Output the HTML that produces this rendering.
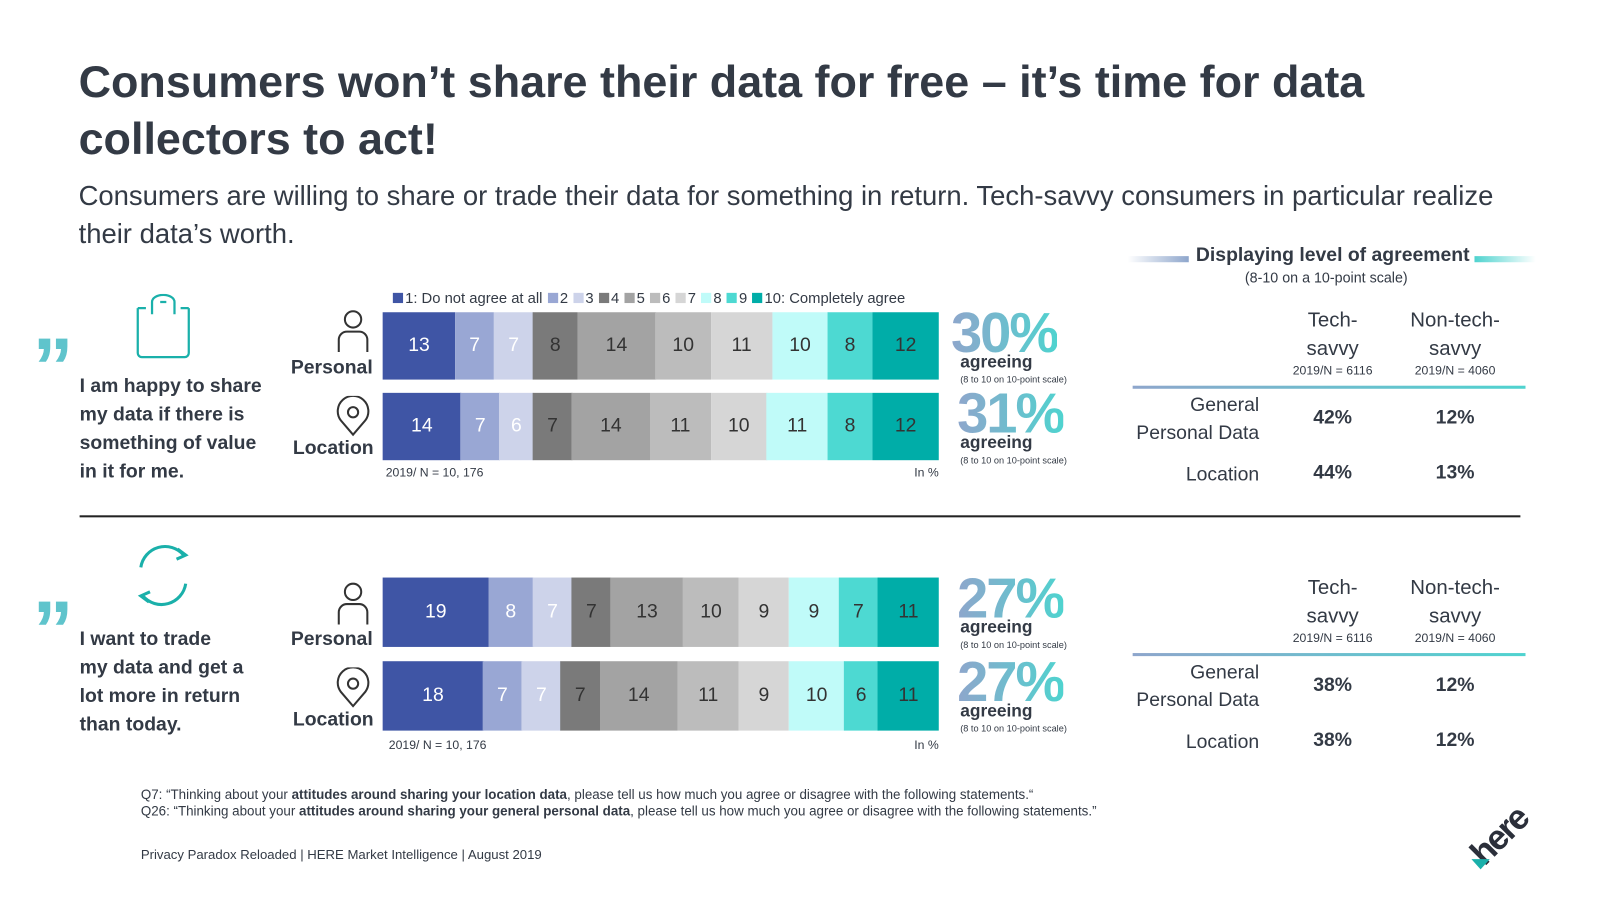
<!DOCTYPE html>
<html><head><meta charset="utf-8">
<style>
body{margin:0;width:1600px;height:900px;background:#fff;position:relative;overflow:hidden;font-family:"Liberation Sans",sans-serif;color:#333a45}
#wrap{position:absolute;left:0;top:0;width:1568px;height:882px;transform:scale(1.0204);transform-origin:0 0}
.a{position:absolute;white-space:nowrap}
.seg{position:absolute;top:0;height:100%;display:flex;align-items:center;justify-content:center;font-size:19px;color:#333}
.big{font-weight:bold;font-size:55px;letter-spacing:-2px;background:linear-gradient(90deg,#8ea6cc,#4fd3cf);-webkit-background-clip:text;background-clip:text;color:transparent}
.agr{font-weight:bold;font-size:17px}
.sml{font-size:9px}
.hd{font-size:20px;text-align:center;line-height:28px}
.hn{font-size:12px;text-align:center}
.rv{font-size:19px;font-weight:bold;text-align:center}
.rl{font-size:19px;text-align:right;line-height:27px}
.gline{position:absolute;height:3px;background:linear-gradient(90deg,#8ea6cc,#4fd3cf)}
.q{font-size:19px;font-weight:bold;line-height:28px}
.lbl{font-size:19px;font-weight:bold}
</style></head><body>
<div id="wrap">
<div class="a" style="left:77px;top:53px;font-size:44px;font-weight:bold;line-height:56px">Consumers won’t share their data for free – it’s time for data<br>collectors to act!</div>
<div class="a" style="left:77px;top:174px;font-size:26.9px;line-height:37px">Consumers are willing to share or trade their data for something in return. Tech-savvy consumers in particular realize<br>their data’s worth.</div>

<div class="a" id="legend" style="left:385px;top:285px;font-size:14.5px;display:flex;gap:5px;align-items:center"></div>

<div id="chart"></div>

<svg class="a" style="left:132px;top:288px" width="56" height="64"><path d="M3 14h8M45 14h8M3 14v44a4 4 0 0 0 4 4h42a4 4 0 0 0 4-4V14M17 20V8a11 7 0 0 1 22 0v12M25 8h6" stroke="#1ab0aa" stroke-width="2.2" fill="none"/></svg>
<div class="a" style="left:32px;top:320px;font-size:80px;font-weight:bold;color:#5fc4cc;line-height:80px">”</div>
<div class="a q" style="left:78px;top:365px">I am happy to share<br>my data if there is<br>something of value<br>in it for me.</div>
<svg class="a" style="left:330px;top:303px" width="32" height="42"><circle cx="16" cy="10" r="8" stroke="#333" stroke-width="2" fill="none"/><path d="M2 42V30a8 8 0 0 1 8-8h12a8 8 0 0 1 8 8v12" stroke="#333" stroke-width="2" fill="none"/></svg>
<div class="a lbl" style="left:285px;top:350px">Personal</div>
<svg class="a" style="left:328px;top:388px" width="36" height="40"><path d="M18 38L6 24a15 15 0 1 1 24 0z" stroke="#333" stroke-width="2" fill="none"/><circle cx="18" cy="16" r="5" stroke="#333" stroke-width="2" fill="none"/></svg>
<div class="a lbl" style="left:287px;top:429px">Location</div>

<svg class="a" style="left:124px;top:528px" width="72" height="72"><path d="M14 28a24 24 0 0 1 42-12M58 44a24 24 0 0 1-42 12" stroke="#1ab0aa" stroke-width="3" fill="none"/><path d="M50 10l8 6-9 4M22 62l-8-6 9-4" stroke="#1ab0aa" stroke-width="3" fill="none"/></svg>
<div class="a" style="left:32px;top:578px;font-size:80px;font-weight:bold;color:#5fc4cc;line-height:80px">”</div>
<div class="a q" style="left:78px;top:613px">I want to trade<br>my data and get a<br>lot more in return<br>than today.</div>
<svg class="a" style="left:330px;top:570px" width="32" height="42"><circle cx="16" cy="10" r="8" stroke="#333" stroke-width="2" fill="none"/><path d="M2 42V30a8 8 0 0 1 8-8h12a8 8 0 0 1 8 8v12" stroke="#333" stroke-width="2" fill="none"/></svg>
<div class="a lbl" style="left:285px;top:616px">Personal</div>
<svg class="a" style="left:328px;top:654px" width="36" height="40"><path d="M18 38L6 24a15 15 0 1 1 24 0z" stroke="#333" stroke-width="2" fill="none"/><circle cx="18" cy="16" r="5" stroke="#333" stroke-width="2" fill="none"/></svg>
<div class="a lbl" style="left:287px;top:695px">Location</div>

<div class="a" style="left:78px;top:505px;width:1412px;height:2px;background:#222"></div>

<div class="gline" style="left:1105px;top:251px;width:60px;height:6px;background:linear-gradient(90deg,#fff,#8ea6cc)"></div>
<div class="gline" style="left:1445px;top:251px;width:60px;height:6px;background:linear-gradient(90deg,#4fd3cf,#fff)"></div>
<div class="a" style="left:1172px;top:240px;font-size:19px;font-weight:bold">Displaying level of agreement</div>
<div class="a" style="left:1220px;top:264px;font-size:14px">(8-10 on a 10-point scale)</div>

<div id="tables"></div>

<div class="a" style="left:138px;top:771px;font-size:13.1px;line-height:16px">Q7: “Thinking about your <b>attitudes around sharing your location data</b>, please tell us how much you agree or disagree with the following statements.“<br>Q26: “Thinking about your <b>attitudes around sharing your general personal data</b>, please tell us how much you agree or disagree with the following statements.”</div>
<div class="a" style="left:138px;top:830px;font-size:12.9px">Privacy Paradox Reloaded | HERE Market Intelligence | August 2019</div>
<div class="a" style="left:1438px;top:800px;font-size:34px;font-weight:bold;color:#2b2f3a;transform:rotate(-45deg);letter-spacing:-2px">here</div>
<div class="a" style="left:1442px;top:842px;width:0;height:0;border-left:9px solid transparent;border-right:9px solid transparent;border-top:10px solid #1ab0aa"></div>
</div>

<script>
const categories=["1: Do not agree at all","2","3","4","5","6","7","8","9","10: Completely agree"];
const rowNames=["personal-share","location-share","personal-trade","location-trade"];
const personalShare=[13,7,7,8,14,10,11,10,8,12];
const locationShare=[14,7,6,7,14,11,10,11,8,12];
const personalTrade=[19,8,7,7,13,10,9,9,7,11];
const locationTrade=[18,7,7,7,14,11,9,10,6,11];
const agreeing=[30,31,27,27];
const techSavvy=[[42,44],[38,38]];
const nonTechSavvy=[[12,13],[12,12]];

const colors=["#3f55a5","#99a7d4","#cdd3ea","#7a7a7a","#a3a3a3","#bcbcbc","#d6d6d6","#c0fbf9","#4dd9d2","#00ada8"];
const txtCol=["#fff","#fff","#fff","#333","#333","#333","#333","#333","#333","#333"];
const series=[personalShare,locationShare,personalTrade,locationTrade];
const rowTop=[306,385,566,648],rowH=[66,66,68,68];
const X0=375,W=545;
function xScale(v,total){return v/total*W;}

const lg=document.getElementById('legend');
categories.forEach((c,i)=>{
  const s=document.createElement('span');
  
  
  s.innerHTML='<span style="display:inline-block;width:10px;height:10px;background:'+colors[i]+';margin-right:2px"></span>'+c;
  lg.appendChild(s);
});

const chart=document.getElementById('chart');
series.forEach((vals,r)=>{
  const total=vals.reduce((a,b)=>a+b,0);
  const row=document.createElement('div');
  row.className='a';
  
  
  row.style.cssText='left:'+X0+'px;top:'+rowTop[r]+'px;width:'+W+'px;height:'+rowH[r]+'px';
  let acc=0;
  vals.forEach((v,i)=>{
    const s=document.createElement('div');
    s.className='seg';
    
    
    s.style.left=xScale(acc,total)+'px';
    s.style.width=(xScale(acc+v,total)-xScale(acc,total)+0.5)+'px';
    s.style.background=colors[i];
    s.style.color=txtCol[i];
    s.textContent=v;
    row.appendChild(s);
    acc+=v;
  });
  chart.appendChild(row);
  const p=document.createElement('div');
  p.className='a big';
  
  
  p.style.left=(r===0?932:938)+'px';p.style.top=(rowTop[r]-12)+'px';
  p.textContent=agreeing[r]+'%';
  chart.appendChild(p);
  const ag=document.createElement('div');
  ag.className='a agr';
  
  
  ag.style.left='941px';ag.style.top=(rowTop[r]+39)+'px';
  ag.textContent='agreeing';
  chart.appendChild(ag);
  const sm=document.createElement('div');
  sm.className='a sml';
  
  
  sm.style.left='941px';sm.style.top=(rowTop[r]+61)+'px';
  sm.textContent='(8 to 10 on 10-point scale)';
  chart.appendChild(sm);
});
[[378,456],[381,723]].forEach((pos,k)=>{
  const n=document.createElement('div');n.className='a';
  
  
  n.style.cssText='left:'+pos[0]+'px;top:'+pos[1]+'px;font-size:12px';
  n.textContent='2019/ N = 10, 176';chart.appendChild(n);
  const u=document.createElement('div');u.className='a';
  
  
  u.style.cssText='left:896px;top:'+pos[1]+'px;font-size:12px';
  u.textContent='In %';chart.appendChild(u);
});

const tb=document.getElementById('tables');
[300,562].forEach((top,t)=>{
  const html=
  '<div class="a hd" style="left:1256px;top:'+top+'px;width:100px">Tech-<br>savvy</div>'+
  '<div class="a hn" style="left:1256px;top:'+(top+56)+'px;width:100px">2019/N = 6116</div>'+
  '<div class="a hd" style="left:1366px;top:'+top+'px;width:120px">Non-tech-<br>savvy</div>'+
  '<div class="a hn" style="left:1366px;top:'+(top+56)+'px;width:120px">2019/N = 4060</div>'+
  '<div class="gline" style="left:1110px;top:'+(top+78)+'px;width:385px"></div>'+
  '<div class="a rl" style="left:1100px;top:'+(top+84)+'px;width:134px">General<br>Personal Data</div>'+
  '<div class="a rl" style="left:1100px;top:'+(top+152)+'px;width:134px">Location</div>';
  tb.insertAdjacentHTML('beforeend',html);
  [0,1].forEach(r=>{
    const y=top+(r===0?99:153);
    const a=document.createElement('div');a.className='a rv';
    
    
    a.style.cssText='left:1256px;top:'+y+'px;width:100px';
    a.textContent=techSavvy[t][r]+'%';tb.appendChild(a);
    const b=document.createElement('div');b.className='a rv';
    
    
    b.style.cssText='left:1376px;top:'+y+'px;width:100px';
    b.textContent=nonTechSavvy[t][r]+'%';tb.appendChild(b);
  });
});
</script>
</body></html>
